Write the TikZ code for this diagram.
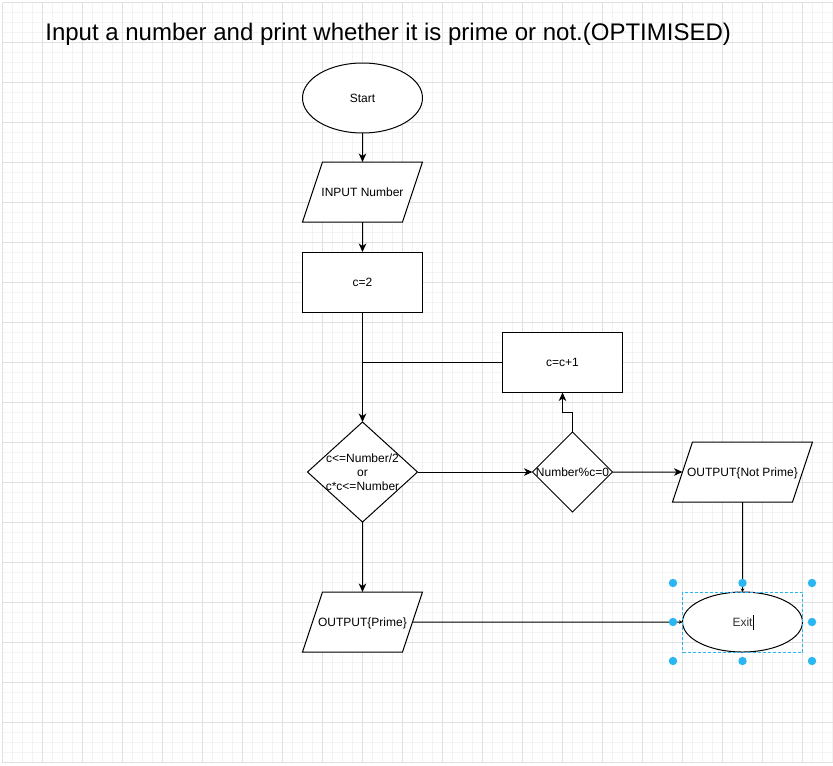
\documentclass[tikz,border=0pt]{standalone}
\usepackage{fontspec}
\setmainfont{Liberation Sans}
\definecolor{gridmajor}{RGB}{224,224,224}
\definecolor{gridminor}{RGB}{243,243,243}
\definecolor{selblue}{RGB}{41,182,242}
\usetikzlibrary{positioning}
\usetikzlibrary{shapes.geometric,arrows.meta}
\tikzset{
  term/.style={ellipse, draw, minimum width=120pt, minimum height=70pt, inner sep=0pt},
  io/.style={trapezium, trapezium left angle=71.57, trapezium right angle=108.43, trapezium stretches body=true,
             draw, inner xsep=-10pt, text height=8.6pt, text depth=0pt, inner ysep=25.7pt},
  proc/.style={rectangle, draw, minimum width=120pt, minimum height=60pt, inner sep=0pt},
  decision/.style={diamond, draw, inner sep=0pt},
  flow/.style={-{Stealth[length=8.5pt,width=7.5pt,inset=2.5pt]}},
  smallflow/.style={-{Stealth[length=3.5pt,width=3.5pt,inset=1pt]}},
  minorgrid/.style={draw=gridminor, line width=0.8pt},
  majorgrid/.style={draw=gridmajor, line width=0.8pt},
  txt/.style={font=\fontsize{12}{14}\selectfont, align=center}
}

\begin{document}
\begin{tikzpicture}[x=1pt, y=-1pt, line width=1pt, every node/.style={outer sep=0pt}]
  \useasboundingbox (0,0) rectangle (833,766);

  % grid of the page
  \foreach \gx in {0,...,83} \draw[minorgrid] ({2.7+10*\gx},2.7) -- ({2.7+10*\gx},762.7);
  \foreach \gy in {0,...,76} \draw[minorgrid] (2.7,{2.7+10*\gy}) -- (832.7,{2.7+10*\gy});
  \foreach \gx in {0,...,20} \draw[majorgrid] ({2.7+40*\gx},2.7) -- ({2.7+40*\gx},762.7);
  \foreach \gy in {0,...,19} \draw[majorgrid] (2.7,{2.7+40*\gy}) -- (832.7,{2.7+40*\gy});

  \node [anchor=base west, font=\fontsize{24}{28}\selectfont] (title) at (42,40.7) {Input a number and print whether it is prime or not.(OPTIMISED)};

  \node [term, fill=white, txt] (start) at (362.5,98) {Start};
  \node [io, fill=white, txt, minimum width=120pt, below=29pt of start] (input) {INPUT Number};
  \node [proc, fill=white, txt, below=30pt of input] (init) {c=2};
  \node [decision, fill=white, minimum width=110pt, minimum height=100pt, below=110pt of init,
         label={[txt]center:c<=Number/2\\or\\c*c<=Number}] (cond) {};
  \node [decision, fill=white, minimum width=80pt, minimum height=80pt, right=115pt of cond,
         label={[txt]center:Number\%c=0}] (check) {};
  \node [proc, fill=white, txt] (incr) at (562.5,362.5) {c=c+1};
  \node [io, fill=white, txt, minimum width=140pt] (notprime) at (742.5,472) {OUTPUT\{Not Prime\}};
  \node [io, fill=white, txt, minimum width=120pt, below=70pt of cond] (prime) {OUTPUT\{Prime\}};
  \node [term, fill=white, txt, text=black!80, minimum height=60pt, below=90pt of notprime] (exit) {Exit};

  \draw [flow] (start) -- (input);
  \draw [flow] (input) -- (init);
  \draw [flow] (init) -- (cond);
  \draw (incr.west) -- (incr.west -| cond.north);
  \draw [flow] (cond) -- (check);
  \draw [flow] (check.north) -- ++(0,-20) -| (incr.south);
  \draw [flow] (check) -- (notprime);
  \draw [flow] (cond) -- (prime);
  \draw [smallflow] (notprime) -- (exit);
  \draw [smallflow] (prime) -- (exit);

  % selection of the exit node
  \draw [selblue, line width=0.8pt, dash pattern=on 3pt off 2pt] (exit.west |- exit.north) rectangle (exit.east |- exit.south);
  \foreach \hx in {673,742.5,812} \foreach \hy in {583,622,661} {
    \ifdim\hy pt=622pt \ifdim\hx pt=742.5pt \else \fill [selblue] (\hx,\hy) circle (4.2pt); \fi
    \else \fill [selblue] (\hx,\hy) circle (4.2pt); \fi
  }
  \draw [line width=0.8pt] (753,615) -- (753,630);
\end{tikzpicture}
\end{document}
